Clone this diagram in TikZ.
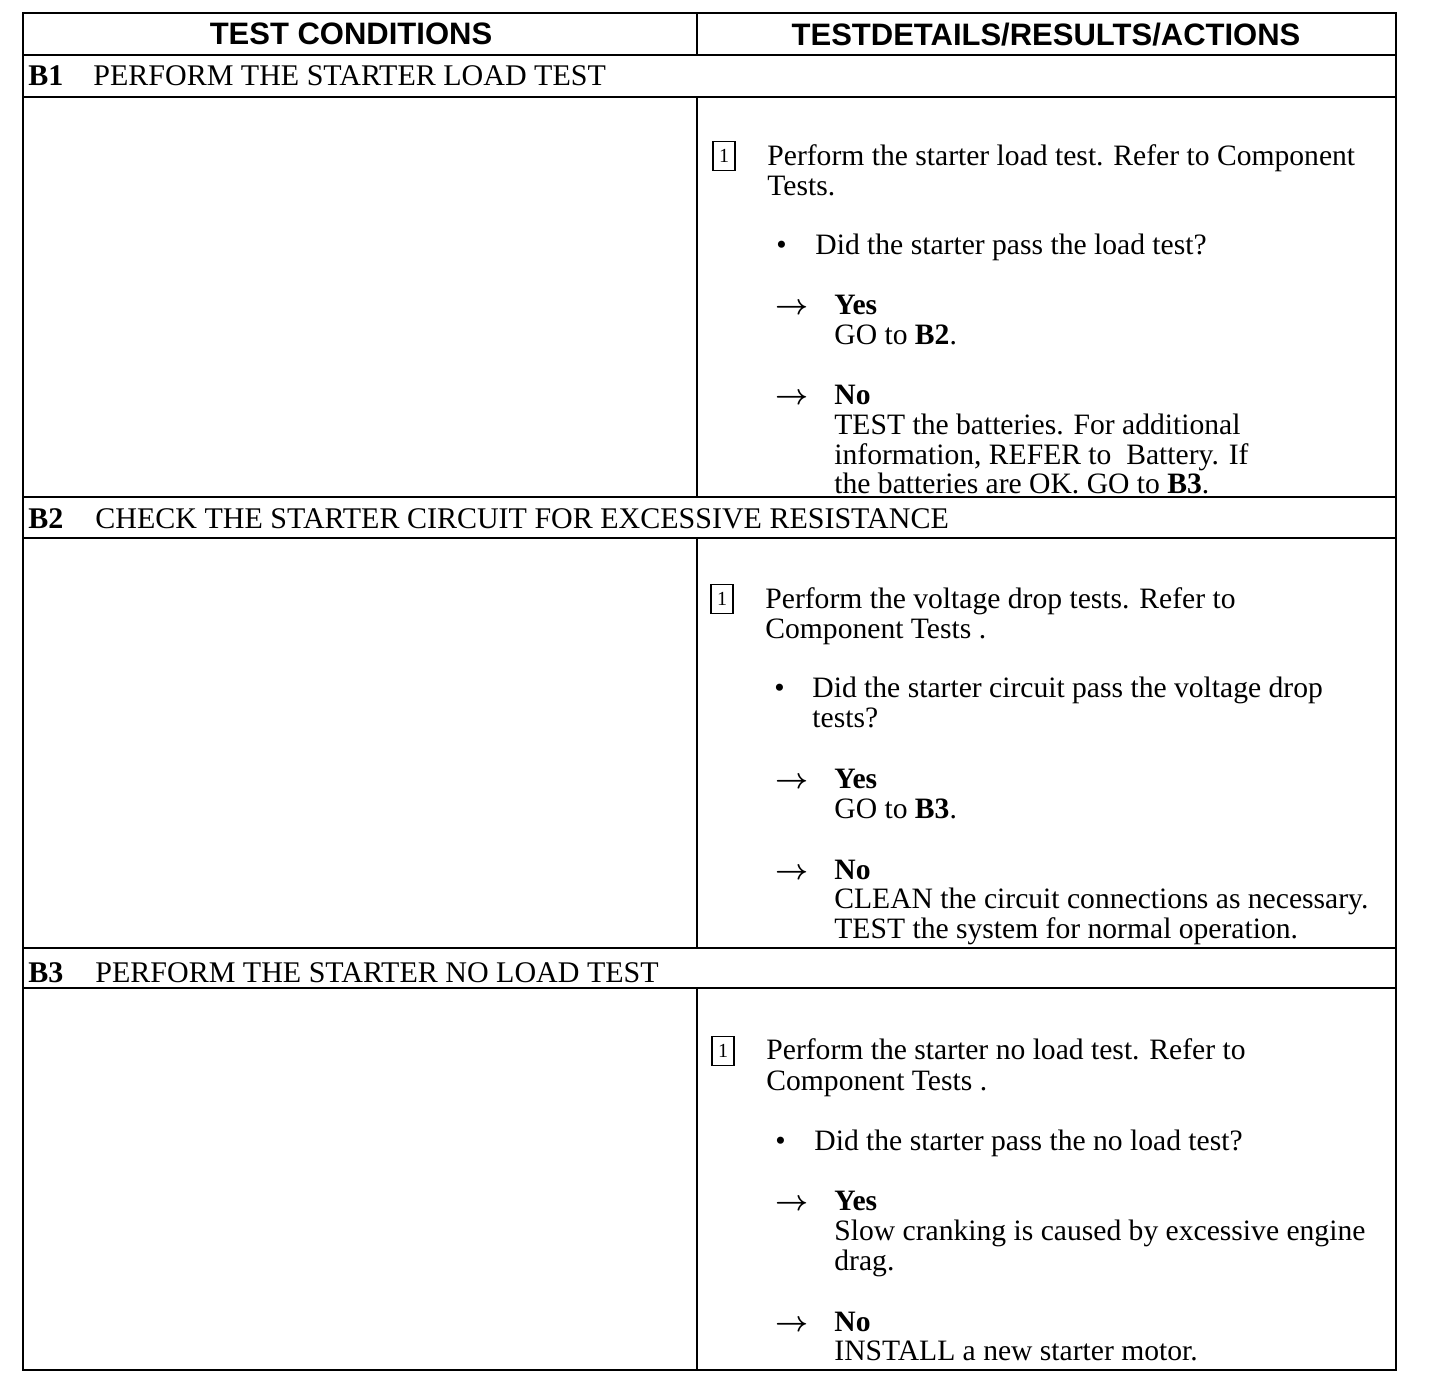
\documentclass[tikz,border=0pt]{standalone}
\usepackage{amsmath}
\usepackage{fontspec}
\setmainfont{Liberation Serif}
\newfontfamily\headfont{Liberation Sans}

\begin{document}
\begin{tikzpicture}[x=0.5pt,y=-0.5pt,
	txt/.style={anchor=base west,inner sep=0pt,font=\fontsize{14.8}{15}\selectfont},
	ttl/.style={anchor=base west,inner sep=0pt,font=\fontsize{15}{16}\selectfont},
	hd/.style={anchor=base,inner sep=0pt,font=\headfont\bfseries\fontsize{15.5}{16}\selectfont},
	nbox/.style={draw,line width=0.7pt,minimum width=11pt,minimum height=14.5pt,inner sep=0pt,font=\fontsize{10}{11}\selectfont},
	rule/.style={line width=1.1pt}]
	\useasboundingbox (0,0) rectangle (1440,1384);
	
	% grid
	\draw[rule] (23,13) rectangle (1396,1370);
	\draw[rule] (23,55) -- (1396,55);
	\draw[rule] (23,97) -- (1396,97);
	\draw[rule] (23,497) -- (1396,497);
	\draw[rule] (23,538) -- (1396,538);
	\draw[rule] (23,948) -- (1396,948);
	\draw[rule] (23,988) -- (1396,988);
	\draw[rule] (697,13) -- (697,55);
	\draw[rule] (697,97) -- (697,497);
	\draw[rule] (697,538) -- (697,948);
	\draw[rule] (697,988) -- (697,1370);
	
	% header
	\node[hd] (hdL) at (351,45) {TEST CONDITIONS};
	\node[hd] (hdR) at (1046,46) {TESTDETAILS/RESULTS/ACTIONS};
	
	% B1
	\node[ttl] (tB1) at (28,86) {\textbf{B1}};
	\node[ttl] (sB1) at (93,86) {PERFORM THE STARTER LOAD TEST};
	\node[nbox] (n1) at (724,156) {1};
	\node[txt] (a1) at (767,166) {Perform the starter load test. Refer to Component};
	\node[txt] (a2) at (767,196) {Tests.};
	\node[txt] (a3b) at (776,255) {\textbullet};
	\node[txt] (a3) at (815,255) {Did the starter pass the load test?};
	\node[txt] (a4r) at (775,315) {$\boldsymbol{\rightarrow}$};
	\node[txt] (a4) at (834,315) {\textbf{Yes}};
	\node[txt] (a5) at (834,345) {GO to \textbf{B2}.};
	\node[txt] (a6r) at (775,405) {$\boldsymbol{\rightarrow}$};
	\node[txt] (a6) at (834,405) {\textbf{No}};
	\node[txt] (a7) at (834,435) {TEST the batteries. For additional};
	\node[txt] (a8) at (834,465) {information, REFER to~ Battery. If};
	\node[txt] (a9) at (834,494) {the batteries are OK. GO to \textbf{B3}.};
	
	% B2
	\node[ttl] (tB2) at (28,529) {\textbf{B2}};
	\node[ttl] (sB2) at (95,529) {CHECK THE STARTER CIRCUIT FOR EXCESSIVE RESISTANCE};
	\node[nbox] (n2) at (722,599) {1};
	\node[txt] (b1) at (765,609) {Perform the voltage drop tests. Refer to};
	\node[txt] (b2) at (765,639) {Component Tests .};
	\node[txt] (b3b) at (774,698) {\textbullet};
	\node[txt] (b3) at (812,698) {Did the starter circuit pass the voltage drop};
	\node[txt] (b4) at (812,728) {tests?};
	\node[txt] (b5r) at (775,789) {$\boldsymbol{\rightarrow}$};
	\node[txt] (b5) at (834,789) {\textbf{Yes}};
	\node[txt] (b6) at (834,819) {GO to \textbf{B3}.};
	\node[txt] (b7r) at (775,879) {$\boldsymbol{\rightarrow}$};
	\node[txt] (b7) at (834,879) {\textbf{No}};
	\node[txt] (b8) at (834,908) {CLEAN the circuit connections as necessary.};
	\node[txt] (b9) at (834,938) {TEST the system for normal operation.};
	
	% B3
	\node[ttl] (tB3) at (28,982) {\textbf{B3}};
	\node[ttl] (sB3) at (95,982) {PERFORM THE STARTER NO LOAD TEST};
	\node[nbox] (n3) at (723,1051) {1};
	\node[txt] (c1) at (766,1059) {Perform the starter no load test. Refer to};
	\node[txt] (c2) at (766,1090) {Component Tests .};
	\node[txt] (c3b) at (775,1150) {\textbullet};
	\node[txt] (c3) at (814,1150) {Did the starter pass the no load test?};
	\node[txt] (c4r) at (775,1210) {$\boldsymbol{\rightarrow}$};
	\node[txt] (c4) at (834,1210) {\textbf{Yes}};
	\node[txt] (c5) at (834,1240) {Slow cranking is caused by excessive engine};
	\node[txt] (c6) at (834,1270) {drag.};
	\node[txt] (c7r) at (775,1331) {$\boldsymbol{\rightarrow}$};
	\node[txt] (c7) at (834,1331) {\textbf{No}};
	\node[txt] (c8) at (834,1360) {INSTALL a new starter motor.};
\end{tikzpicture}
\end{document}
